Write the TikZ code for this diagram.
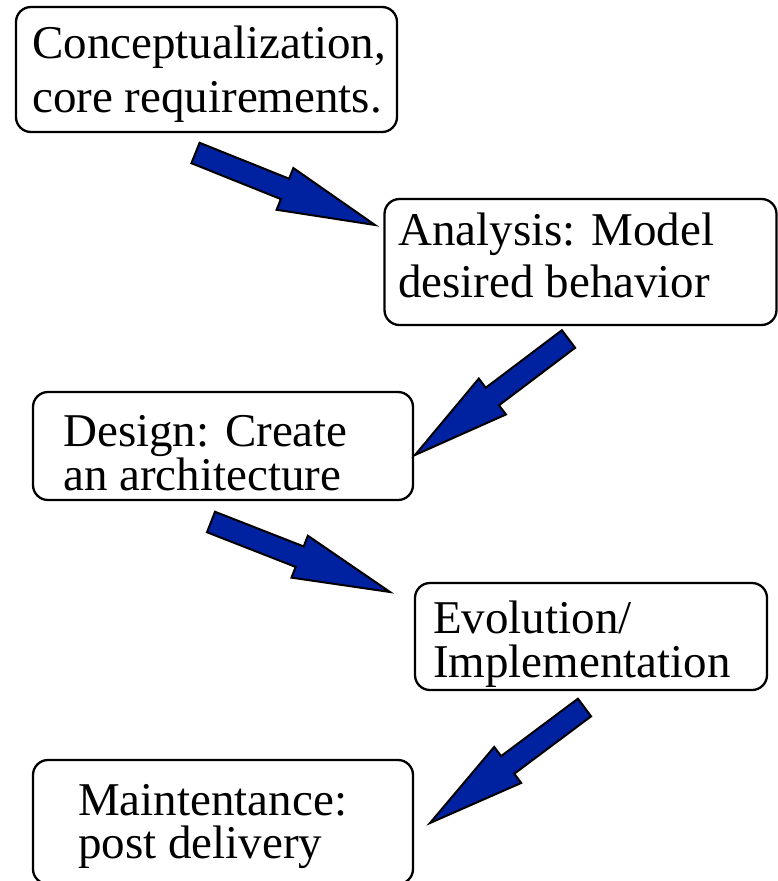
\documentclass[tikz,border=0pt]{standalone}
\usepackage{fontspec}
\setmainfont{Liberation Serif}
\usetikzlibrary{calc}
\definecolor{arrowblue}{RGB}{0,33,160}
\tikzset{
  stage/.style={draw=black, line width=2.3pt, rounded corners=15pt, fill=white, inner sep=0pt},
  linetext/.style={anchor=base west, inner sep=0pt, font=\fontsize{47}{52}\selectfont},
  blockarrow/.style={fill=arrowblue, draw=black, line width=2pt, line join=miter},
}
% block arrow from tail midpoint #1 to tip #2
\newcommand\flowarrow[2]{%
  \path ($(#2)!97pt!(#1)$) coordinate (hb);
  \filldraw[blockarrow]
    ($(#1)!11pt!90:(#2)$) -- ($(hb)!11pt!90:(#2)$) -- ($(hb)!22.5pt!90:(#2)$)
    -- (#2)
    -- ($(hb)!22.5pt!-90:(#2)$) -- ($(hb)!11pt!-90:(#2)$) -- ($(#1)!11pt!-90:(#2)$)
    -- cycle;
}
\begin{document}
\begin{tikzpicture}[x=1pt,y=-1pt]
  \useasboundingbox (0,0) rectangle (778,881);
  \clip (0,0) rectangle (778,881);

  % stage boxes
  \node[stage, minimum width=381pt, minimum height=125pt] (concept) at (206.5,69.5) {};
  \node[stage, minimum width=392pt, minimum height=126pt] (analysis) at (580.5,262) {};
  \node[stage, minimum width=380pt, minimum height=108pt] (design) at (223,446) {};
  \node[stage, minimum width=352pt, minimum height=107pt] (evolution) at (591,636.5) {};
  \node[stage, minimum width=380pt, minimum height=124pt] (maint) at (223,822) {};

  % box texts, one node per line
  \node[linetext] (concept-a) at (32,58) {Conceptualization,};
  \node[linetext] (concept-b) at (32,112) {core requirements.};
  \node[linetext] (analysis-a) at (398,245) {Analysis: Model};
  \node[linetext] (analysis-b) at (398,297) {desired behavior};
  \node[linetext] (design-a) at (63,446) {Design: Create};
  \node[linetext] (design-b) at (63,490) {an architecture};
  \node[linetext] (evolution-a) at (433,633) {Evolution/};
  \node[linetext] (evolution-b) at (433,677) {Implementation};
  \node[linetext] (maint-a) at (78,815) {Maintentance:};
  \node[linetext] (maint-b) at (78,858) {post delivery};

  % arrow end points
  \coordinate (a1-tail) at (195.5,153);
  \coordinate (a1-tip) at (375,225);
  \coordinate (a2-tail) at (568.5,339);
  \coordinate (a2-tip) at (415,455);
  \coordinate (a3-tail) at (211,522);
  \coordinate (a3-tip) at (390,592);
  \coordinate (a4-tail) at (584.5,707.5);
  \coordinate (a4-tip) at (430,823);

  \flowarrow{a1-tail}{a1-tip}
  \flowarrow{a2-tail}{a2-tip}
  \flowarrow{a3-tail}{a3-tip}
  \flowarrow{a4-tail}{a4-tip}
\end{tikzpicture}
\end{document}
